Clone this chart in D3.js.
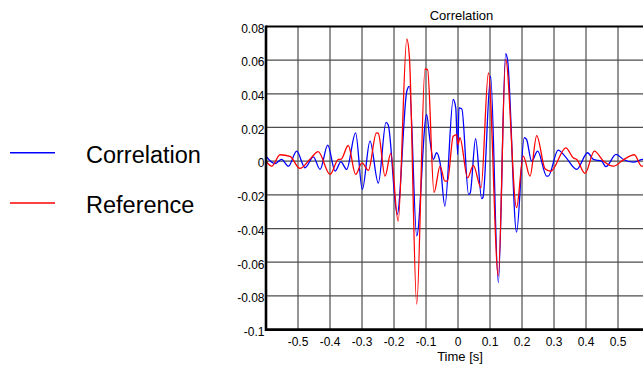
<!DOCTYPE html>
<html>
<head>
<meta charset="utf-8">
<script src="https://cdn.jsdelivr.net/npm/d3@7"></script>
<style>
  html, body { margin: 0; padding: 0; background: #fff; overflow: hidden; }
  svg { display: block; font-family: "Liberation Sans", Arial, Helvetica, sans-serif; }
</style>
</head>
<body>
<svg id="chart" width="643" height="367"></svg>
<script>
// Cross-correlation trace (blue) against the reference trace (red), time in seconds
const corrTime = [-0.600, -0.572, -0.551, -0.530, -0.504, -0.478, -0.452, -0.431, -0.407, -0.384,
  -0.366, -0.348, -0.320, -0.299, -0.275, -0.249, -0.225, -0.218, -0.190, -0.160,
  -0.152, -0.129, -0.098, -0.088, -0.077, -0.067, -0.056, -0.041, -0.015, -0.007,
  -0.001, 0.003, 0.012, 0.033, 0.038, 0.055, 0.074, 0.078, 0.102, 0.126,
  0.149, 0.155, 0.183, 0.207, 0.214, 0.230, 0.249, 0.277, 0.282, 0.313,
  0.334, 0.371, 0.405, 0.423, 0.449, 0.462, 0.494, 0.517, 0.548, 0.578, 0.600];
const corrValue = [0.0030, -0.0014, 0.0010, -0.0030, 0.0059, -0.0039, 0.0026, -0.0049, 0.0095, -0.0059,
  -0.0004, -0.0049, 0.0168, -0.0168, 0.0119, -0.0130, 0.0230, 0.0215, -0.0316, 0.0415,
  0.0444, -0.0444, 0.0277, 0.0129, 0.0010, 0.0050, -0.0010, -0.0267, 0.0366, 0.0316,
  0.0040, 0.0316, 0.0310, -0.0197, -0.0190, 0.0133, -0.0223, -0.0215, 0.0504, -0.0721,
  0.0638, 0.0599, -0.0421, 0.0139, 0.0130, 0.0000, 0.0059, -0.0089, -0.0089, 0.0065,
  0.0030, -0.0049, 0.0050, 0.0010, 0.0000, -0.0033, 0.0040, 0.0010, -0.0006, 0.0010, 0.0005];

const refTime = [-0.600, -0.582, -0.556, -0.525, -0.494, -0.461, -0.437, -0.400, -0.374, -0.365,
  -0.343, -0.320, -0.300, -0.280, -0.255, -0.249, -0.228, -0.210, -0.187, -0.160,
  -0.152, -0.129, -0.103, -0.095, -0.075, -0.056, -0.041, -0.033, -0.015, -0.004,
  0.000, 0.006, 0.030, 0.048, 0.072, 0.095, 0.126, 0.149, 0.183, 0.204,
  0.225, 0.246, 0.272, 0.290, 0.337, 0.360, 0.371, 0.397, 0.426, 0.455,
  0.486, 0.517, 0.551, 0.574, 0.600];
const refValue = [0.0000, -0.0030, 0.0038, 0.0028, -0.0043, 0.0015, 0.0057, -0.0079, 0.0010, 0.0012,
  0.0093, -0.0079, -0.0010, -0.0055, 0.0168, 0.0165, -0.0089, 0.0046, -0.0356, 0.0725,
  0.0622, -0.0849, 0.0547, 0.0543, -0.0187, -0.0030, -0.0119, -0.0119, 0.0148, 0.0158,
  0.0099, 0.0139, -0.0099, -0.0025, -0.0158, 0.0524, -0.0681, 0.0603, -0.0276, 0.0030,
  -0.0089, 0.0152, -0.0045, -0.0060, 0.0079, 0.0020, 0.0010, -0.0073, 0.0059, 0.0000,
  -0.0030, 0.0008, 0.0038, -0.0030, -0.0010];

const xTicks = [-0.5, -0.4, -0.3, -0.2, -0.1, 0, 0.1, 0.2, 0.3, 0.4, 0.5];
const xTickLabels = ["-0.5", "-0.4", "-0.3", "-0.2", "-0.1", "0", "0.1", "0.2", "0.3", "0.4", "0.5"];
const yTicks = [0.08, 0.06, 0.04, 0.02, 0, -0.02, -0.04, -0.06, -0.08, -0.1];
const yTickLabels = ["0.08", "0.06", "0.04", "0.02", "0", "-0.02", "-0.04", "-0.06", "-0.08", "-0.1"];

const seriesNames = ["Correlation", "Reference"];
const seriesColors = ["#0000ff", "#ff0000"];

const svg = d3.select("#chart");
const plot = { left: 266, right: 650, top: 26.4, bottom: 329.6 };

const x = d3.scaleLinear().domain([-0.6, 0.6]).range([plot.left, plot.right]);
const y = d3.scaleLinear().domain([-0.1, 0.08]).range([plot.bottom, plot.top]);

// grid
const grid = svg.append("g");
grid.selectAll("line.v").data(xTicks).join("line")
  .attr("x1", d => x(d)).attr("x2", d => x(d))
  .attr("y1", plot.top).attr("y2", plot.bottom)
  .attr("stroke", "#4d4d4d").attr("stroke-width", 1.2);
grid.selectAll("line.h").data(yTicks.filter(d => d < 0.08 && d > -0.1)).join("line")
  .attr("x1", plot.left).attr("x2", plot.right)
  .attr("y1", d => y(d)).attr("y2", d => y(d))
  .attr("stroke", "#4d4d4d").attr("stroke-width", 1.2);

// series
svg.append("clipPath").attr("id", "plotclip").append("rect")
  .attr("x", plot.left).attr("y", plot.top)
  .attr("width", plot.right - plot.left).attr("height", plot.bottom - plot.top);

const line = d3.line().x(d => x(d[0])).y(d => y(d[1])).curve(d3.curveMonotoneX);
const seriesData = [
  d3.zip(corrTime, corrValue),
  d3.zip(refTime, refValue)
];
svg.append("g").attr("clip-path", "url(#plotclip)")
  .selectAll("path").data(seriesData).join("path")
  .attr("d", line)
  .attr("fill", "none")
  .attr("stroke", (d, i) => seriesColors[i])
  .attr("stroke-width", 1.3)
  .attr("stroke-linejoin", "round");

// frame
svg.append("line").attr("x1", plot.left).attr("x2", plot.right)
  .attr("y1", plot.top).attr("y2", plot.top).attr("stroke", "#000").attr("stroke-width", 2);
svg.append("line").attr("x1", plot.left).attr("x2", plot.right)
  .attr("y1", plot.bottom).attr("y2", plot.bottom).attr("stroke", "#000").attr("stroke-width", 2.6);
svg.append("line").attr("x1", plot.left).attr("x2", plot.left)
  .attr("y1", plot.top - 1).attr("y2", plot.bottom + 1.3).attr("stroke", "#000").attr("stroke-width", 2.6);

// tick labels
svg.append("g").selectAll("text").data(yTicks).join("text")
  .attr("x", 264.5).attr("y", d => y(d) + 6.3)
  .attr("text-anchor", "end").attr("font-size", 12).attr("fill", "#000")
  .text((d, i) => yTickLabels[i]);
svg.append("g").selectAll("text").data(xTicks).join("text")
  .attr("x", d => x(d)).attr("y", 346)
  .attr("text-anchor", "middle").attr("font-size", 12).attr("fill", "#000")
  .text((d, i) => xTickLabels[i]);

// titles
svg.append("text").attr("x", 461.5).attr("y", 20).attr("text-anchor", "middle")
  .attr("font-size", 13).attr("fill", "#000").text("Correlation");
svg.append("text").attr("x", 460).attr("y", 360.5).attr("text-anchor", "middle")
  .attr("font-size", 13).attr("fill", "#000").text("Time [s]");

// legend
const legend = svg.append("g").selectAll("g").data(seriesNames).join("g")
  .attr("transform", (d, i) => `translate(0, ${152.7 + i * 50.3})`);
legend.append("line").attr("x1", 10).attr("x2", 55).attr("y1", 0).attr("y2", 0)
  .attr("stroke", (d, i) => seriesColors[i]).attr("stroke-width", 1.4);
legend.append("text").attr("x", 86).attr("y", 9.8)
  .attr("font-size", 23.5).attr("fill", "#000").text(d => d);
</script>
</body>
</html>
